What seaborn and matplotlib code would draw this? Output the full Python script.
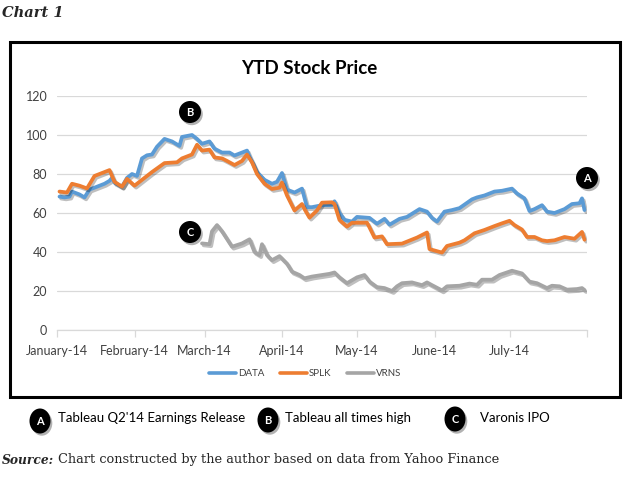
import matplotlib
matplotlib.use("Agg")
import numpy as np
import pandas as pd
import seaborn as sns
import matplotlib.pyplot as plt
import matplotlib.dates as mdates
import matplotlib.patheffects as pe
from matplotlib.patches import Rectangle, Ellipse
from matplotlib.lines import Line2D

# ---------------- data ----------------
data_dates = ["01-02", "01-04", "01-06", "01-07", "01-10", "01-12", "01-14", "01-16", "01-17", "01-20",
              "01-22", "01-23", "01-24", "01-27", "01-29", "01-31", "02-02", "02-04", "02-06", "02-08",
              "02-10", "02-13", "02-16", "02-19", "02-20", "02-22", "02-24", "02-26", "02-28", "03-03",
              "03-05", "03-08", "03-11", "03-13", "03-15", "03-18", "03-19", "03-22", "03-25", "03-28",
              "03-30", "04-01", "04-03", "04-06", "04-09", "04-11", "04-13", "04-17", "04-21", "04-22",
              "04-24", "04-26", "04-29", "05-01", "05-06", "05-09", "05-12", "05-14", "05-18", "05-21",
              "05-26", "05-29", "05-31", "06-02", "06-05", "06-08", "06-11", "06-16", "06-18", "06-21",
              "06-25", "06-28", "07-02", "07-04", "07-07", "07-09", "07-11", "07-14", "07-16", "07-19",
              "07-23", "07-26", "07-29", "07-30", "07-31"]
data_vals = [68.4, 68, 68.4, 71, 69.5, 68, 72, 73, 73.5, 75,
             76.5, 78, 75.5, 73.5, 78, 80, 79, 88, 89.6, 90,
             94, 98, 96.7, 94.4, 99, 99.5, 100, 98, 95.5, 96.7,
             93, 91, 91, 89.5, 90.5, 92, 89, 81, 77, 75,
             76, 80.5, 72, 70.5, 72.5, 63, 63, 64, 64, 66,
             60, 56.5, 55.6, 58, 57.5, 54.5, 57, 54, 57, 58,
             62, 60.7, 57.5, 55.6, 60.7, 61.5, 62.5, 67, 68, 69,
             71, 71.4, 72.5, 70, 67.5, 61, 62, 64, 60.7, 60,
             62, 64.6, 65, 67.5, 61.5]

splk_dates = ["01-02", "01-05", "01-07", "01-10", "01-13", "01-16", "01-19", "01-22", "01-24", "01-27",
              "01-29", "02-01", "02-04", "02-08", "02-13", "02-18", "02-20", "02-24", "02-26", "02-28",
              "03-03", "03-05", "03-08", "03-10", "03-13", "03-16", "03-18", "03-20", "03-22", "03-25",
              "03-28", "03-31", "04-01", "04-03", "04-06", "04-09", "04-10", "04-12", "04-15", "04-17",
              "04-21", "04-22", "04-24", "04-27", "04-29", "05-05", "05-06", "05-08", "05-11", "05-13",
              "05-19", "05-25", "05-29", "05-30", "06-04", "06-06", "06-11", "06-13", "06-17", "06-21",
              "06-25", "06-28", "07-01", "07-03", "07-06", "07-08", "07-11", "07-14", "07-16", "07-19",
              "07-23", "07-27", "07-30", "07-31"]
splk_vals = [71, 70.5, 75, 74, 72.6, 79, 80.5, 82, 76, 73.5,
             77.5, 74, 77, 81, 85.6, 86, 88, 90, 95, 92,
             92.5, 88.5, 88, 86.7, 84.6, 86.7, 90, 86, 80, 75,
             72.3, 73, 75.6, 69, 61.3, 64.6, 62, 57.6, 61.3, 65.3,
             65.5, 64.6, 56.4, 53, 55, 55, 52.6, 47.4, 48, 44,
             44.3, 47.4, 50, 41.5, 39.7, 43.1, 44.8, 46, 49.6, 51.3,
             53.3, 54.7, 56, 53.8, 51.5, 47.7, 47.7, 46, 45.6, 46,
             47.7, 46.8, 50.3, 46.3]

vrns_dates = ["02-28", "03-03", "03-04", "03-06", "03-08", "03-12", "03-16", "03-19", "03-21", "03-23",
              "03-24", "03-26", "03-28", "03-31", "04-03", "04-05", "04-08", "04-10", "04-13", "04-17",
              "04-20", "04-22", "04-24", "04-27", "05-01", "05-04", "05-06", "05-09", "05-12", "05-15",
              "05-17", "05-19", "05-23", "05-27", "05-29", "05-31", "06-04", "06-06", "06-11", "06-15",
              "06-18", "06-20", "06-24", "06-27", "07-02", "07-06", "07-09", "07-12", "07-16", "07-18",
              "07-21", "07-24", "07-28", "07-30", "07-31"]
vrns_vals = [44.4, 44, 50.6, 53.8, 50.6, 42.7, 44.4, 46.5, 40, 38.4,
             44, 38.4, 35.8, 37.9, 34, 29.9, 28.2, 26.5, 27.4, 28.2,
             28.8, 29.5, 27, 24, 27, 28.2, 24.8, 22, 21.5, 20,
             22.4, 24, 24.4, 23, 24.4, 23, 20.3, 22.4, 22.7, 23.8,
             23.2, 25.8, 25.8, 28.2, 30.4, 29, 24.8, 24, 21.5, 22.7,
             22.4, 20.7, 21, 21.5, 20.5]

tickers = ["DATA", "SPLK", "VRNS"]
colors = ["#5B9BD5", "#ED7D31", "#A5A5A5"]
y_ticks = [0, 20, 40, 60, 80, 100, 120]
month_starts = ["2014-01-01", "2014-02-01", "2014-03-01", "2014-04-01", "2014-05-01",
                "2014-06-01", "2014-07-01", "2014-08-01"]
month_labels = ["January-14", "February-14", "March-14", "April-14", "May-14",
                "June-14", "July-14", ""]

frames = []
for t, d, v in zip(tickers, [data_dates, splk_dates, vrns_dates], [data_vals, splk_vals, vrns_vals]):
    frames.append(pd.DataFrame({"date": pd.to_datetime(["2014-" + s for s in d]),
                                "price": v, "ticker": t}))
df = pd.concat(frames, ignore_index=True)

# ---------------- figure ----------------
sns.set_theme(style="white")
plt.rcParams["font.family"] = ["Lato", "DejaVu Sans"]

W, H = 629, 478
fig = plt.figure(figsize=(W / 100, H / 100), dpi=100)
fig.patch.set_facecolor("white")

ax = fig.add_axes([57 / W, 1 - 330 / H, 530 / W, 234 / H])
sns.lineplot(data=df, x="date", y="price", hue="ticker", hue_order=tickers,
             palette=colors, linewidth=2.7, legend=False, ax=ax)
for ln in ax.lines:
    ln.set_solid_joinstyle("round")
    ln.set_solid_capstyle("round")
    ln.set_path_effects([pe.SimpleLineShadow(offset=(1.2, -1.4), shadow_color="black", alpha=0.25),
                         pe.Normal()])

ax.set_ylim(0, 120)
ax.set_yticks(y_ticks)
ax.set_xlim(pd.Timestamp("2014-01-01"), pd.Timestamp("2014-08-01"))
ax.set_xticks(pd.to_datetime(month_starts))
ax.set_xticklabels(month_labels)
ax.set_xlabel("")
ax.set_ylabel("")
ax.grid(axis="y", color="#D9D9D9", linewidth=0.9)
ax.grid(axis="x", visible=False)
for s in ["top", "right", "left"]:
    ax.spines[s].set_visible(False)
ax.spines["bottom"].set_color("#D9D9D9")
ax.spines["bottom"].set_linewidth(0.9)
ax.tick_params(axis="x", length=5, width=0.9, color="#D9D9D9", direction="out",
               labelsize=9, labelcolor="#404040", pad=6, bottom=True)
ax.tick_params(axis="y", length=0, labelsize=9, labelcolor="#404040", pad=7)
ax.set_facecolor("none")

# ---------------- overlay in pixel coordinates ----------------
ov = fig.add_axes([0, 0, 1, 1])
ov.set_xlim(0, W)
ov.set_ylim(H, 0)
ov.axis("off")
ov.set_zorder(5)

ov.add_patch(Rectangle((10, 42), 610, 355, fill=False, edgecolor="black", linewidth=2.2))

ov.text(309, 68, "YTD Stock Price", ha="center", va="center", fontsize=13.5,
        fontweight="bold", color="black")


def badge(x, y, letter, w=22, h=22):
    ov.add_patch(Ellipse((x + 1.8, y + 2.2), w, h, facecolor="black", alpha=0.3, edgecolor="none"))
    ov.add_patch(Ellipse((x, y), w, h, facecolor="black", edgecolor="none"))
    ov.text(x, y + 0.5, letter, ha="center", va="center", color="white", fontsize=8, fontweight="bold")


badge(190, 112, "B")
badge(587, 178, "A")
badge(190, 232, "C")

badge(40, 421, "A", 21, 25)
badge(268, 420, "B", 21, 25)
badge(455, 419, "C", 21, 25)
ov.text(58, 418, "Tableau Q2'14 Earnings Release", ha="left", va="center", fontsize=9.5, color="black")
ov.text(285, 418, "Tableau all times high", ha="left", va="center", fontsize=9.5, color="black")
ov.text(480, 418, "Varonis IPO", ha="left", va="center", fontsize=9.5, color="black")

ov.text(2, 13, "Chart 1", ha="left", va="center", fontsize=10.5, fontweight="bold",
        fontstyle="italic", family="DejaVu Serif")
ov.text(2, 460, "Source:", ha="left", va="center", fontsize=8.8, fontweight="bold",
        fontstyle="italic", family="DejaVu Serif")
ov.text(58, 460, "Chart constructed by the author based on data from Yahoo Finance", ha="left",
        va="center", fontsize=9.3, family="DejaVu Serif")

handles = [Line2D([0], [0], color=c, linewidth=2.6) for c in colors]
fig.legend(handles, tickers, loc="center", bbox_to_anchor=(305 / W, 1 - 374 / H), ncol=3,
           frameon=False, fontsize=7, handlelength=2.8, handletextpad=0.2, columnspacing=1.6,
           labelcolor="#404040")

fig.savefig("out.png", dpi=100)
